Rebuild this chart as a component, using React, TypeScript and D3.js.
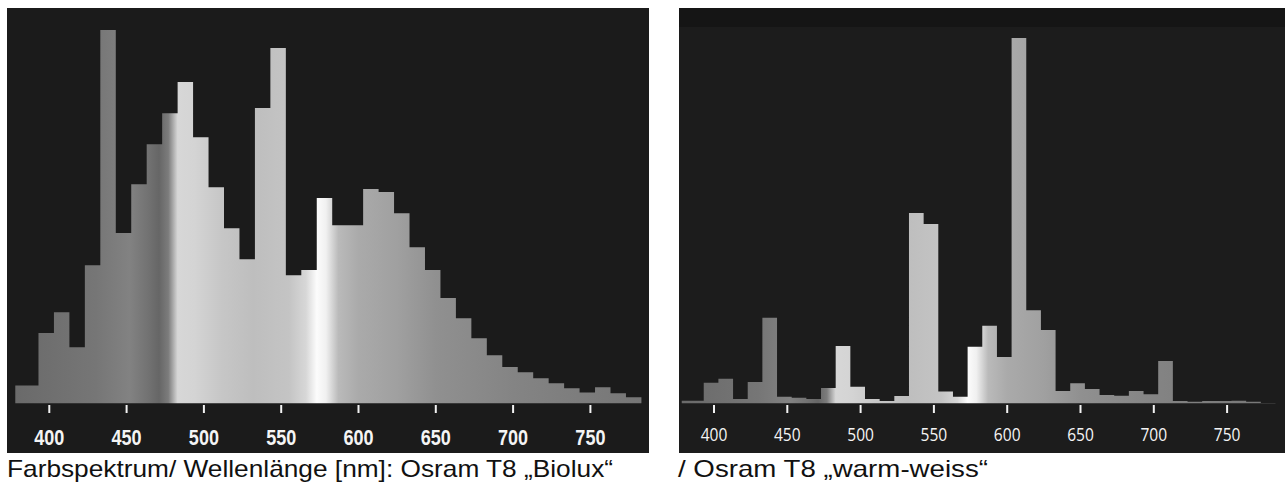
import React from "react";
import * as d3 from "d3";

// bin lower edges in nm (first bin is a little wider), last bin ends at 783
const binStarts = [
  378, 393, 403, 413, 423, 433, 443, 453, 463, 473, 483, 493, 503, 513, 523, 533, 543, 553, 563, 573,
  583, 593, 603, 613, 623, 633, 643, 653, 663, 673, 683, 693, 703, 713, 723, 733, 743, 753, 763, 773,
];
const binEnd = 783;

// relative intensity, Osram T8 "Biolux"
const biolux = [
  4.8, 18.8, 24.4, 15.0, 37.0, 100, 45.6, 58.7, 69.4, 77.7, 86.1, 71.3, 57.9, 46.9, 38.6, 79.1, 95.2, 34.3, 35.7, 55.0,
  47.7, 47.7, 57.4, 56.6, 50.9, 41.8, 35.7, 28.2, 22.8, 17.4, 12.9, 9.7, 8.3, 6.7, 5.4, 4.0, 2.9, 4.3, 2.7, 1.6,
];

// relative intensity, Osram T8 "warm-weiss"
const warmWeiss = [
  0.7, 5.6, 6.7, 1.2, 5.8, 23.4, 1.8, 1.5, 1.2, 4.2, 15.7, 4.5, 1.2, 0.6, 2.0, 52.1, 49.1, 3.2, 1.8, 15.5,
  21.2, 12.7, 100, 25.5, 20.1, 3.4, 5.5, 3.9, 2.3, 2.1, 3.4, 2.5, 11.6, 0.6, 0.4, 0.6, 0.6, 0.7, 0.4, 0.1,
];

const tickValues = [400, 450, 500, 550, 600, 650, 700, 750];

// grey rendering of the spectrum colours: [nm, grey level]
const spectrumStops: [number, number][] = [
  [378, 106], [430, 118], [452, 130], [464, 114], [471, 102], [477, 124], [483, 215],
  [494, 212], [512, 198], [532, 190], [555, 196], [566, 215], [573, 252], [579, 240],
  [587, 186], [600, 170], [625, 160], [650, 144], [700, 132], [783, 118],
];

const captionLeft = "Farbspektrum/ Wellenlänge [nm]: Osram T8 \u201eBiolux\u201c";
const captionRight = "/ Osram T8 \u201ewarm-weiss\u201c";

type PanelProps = {
  id: string;
  values: number[];
  left: number;
  right: number;
  x400: number;
  x750: number;
  yTop: number;
  bg: string;
  topBand?: boolean;
  labelFont: string;
  labelSize: number;
  labelWeight: number;
  labelBase: number;
  labelScale: number;
};

const Panel = ({ id, values, left, right, x400, x750, yTop, bg, topBand, labelFont, labelSize, labelWeight, labelBase, labelScale }: PanelProps) => {
  const top = 8;
  const bottom = 453;
  const base = 403.3;
  const x = d3.scaleLinear().domain([400, 750]).range([x400, x750]);
  const y = d3.scaleLinear().domain([0, 100]).range([base, yTop]);

  const pts = binStarts.map((w, i) => ({ w, v: values[i] }));
  pts.push({ w: binEnd, v: values[values.length - 1] });

  const area = d3
    .area<{ w: number; v: number }>()
    .x((d) => x(d.w))
    .y0(y(0))
    .y1((d) => y(d.v))
    .curve(d3.curveStepAfter);

  const gx0 = x(binStarts[0]);
  const gx1 = x(binEnd);

  return (
    <g>
      <defs>
        <linearGradient id={id} gradientUnits="userSpaceOnUse" x1={gx0} x2={gx1} y1={0} y2={0}>
          {spectrumStops.map(([w, g], i) => (
            <stop key={i} offset={(x(w) - gx0) / (gx1 - gx0)} stopColor={d3.rgb(g, g, g).formatHex()} />
          ))}
        </linearGradient>
      </defs>
      <rect x={left} y={top} width={right - left} height={bottom - top} fill={bg} />
      {topBand && <rect x={left} y={top} width={right - left} height={19} fill="#151515" />}
      <path d={area(pts) || ""} fill={`url(#${id})`} />
      {tickValues.map((t) => (
        <g key={t}>
          <line x1={x(t)} x2={x(t)} y1={405} y2={413} stroke="#f2f2f2" strokeWidth={2} />
          <text
            transform={`translate(${x(t)},${labelBase}) scale(${labelScale},1)`}
            textAnchor="middle"
            fill="#f4f4f4"
            fontFamily={labelFont}
            fontSize={labelSize}
            fontWeight={labelWeight}
          >
            {t}
          </text>
        </g>
      ))}
    </g>
  );
};

export default function App() {
  return (
    <svg
      width={1287}
      height={485}
      style={{ position: "absolute", left: 0, top: 0, background: "#ffffff" }}
    >
      <Panel
        id="specA"
        values={biolux}
        left={7}
        right={649}
        x400={49.3}
        x750={590.4}
        yTop={30}
        bg="#1b1b1b"
        labelFont="'Liberation Sans', Arial, sans-serif"
        labelSize={22}
        labelWeight={700}
        labelBase={445}
        labelScale={0.82}
      />
      <Panel
        id="specB"
        values={warmWeiss}
        left={679}
        right={1285}
        x400={714}
        x750={1227.1}
        yTop={38}
        bg="#1c1c1c"
        topBand
        labelFont="'Open Sans', sans-serif"
        labelSize={19}
        labelWeight={400}
        labelBase={441}
        labelScale={0.82}
      />
      <text
        x={7}
        y={477}
        fontFamily="'Liberation Sans', Arial, sans-serif"
        fontSize={24}
        fill="#111"
        textLength={606}
        lengthAdjust="spacingAndGlyphs"
      >
        {captionLeft}
      </text>
      <text
        x={678}
        y={477}
        fontFamily="'Liberation Sans', Arial, sans-serif"
        fontSize={24}
        fill="#111"
        textLength={310}
        lengthAdjust="spacingAndGlyphs"
      >
        {captionRight}
      </text>
    </svg>
  );
}
